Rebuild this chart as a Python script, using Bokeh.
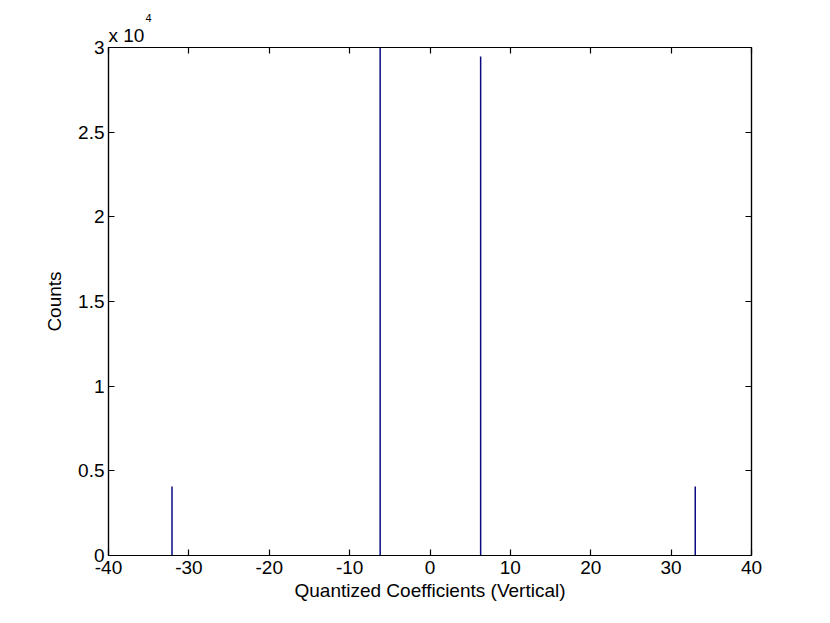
from bokeh.plotting import figure
from bokeh.models import Range1d, LinearAxis, FixedTicker, Title, ColumnDataSource
from bokeh.embed import file_html
from bokeh.resources import INLINE

# data
coefficients = [-32.1, -6.2, 6.3, 33.0]
counts = [4080, 31000, 29470, 4080]
x_ticks = [-40, -30, -20, -10, 0, 10, 20, 30, 40]
x_tick_labels = ["-40", "-30", "-20", "-10", "0", "10", "20", "30", "40"]
y_ticks = [0, 5000, 10000, 15000, 20000, 25000, 30000]
y_tick_labels = ["0", "0.5", "1", "1.5", "2", "2.5", "3"]
exponent_base = "x 10"
exponent_power = "4"

FONT = "Liberation Sans"

src = ColumnDataSource(dict(x=coefficients, y=counts, y0=[0] * len(counts)))

p = figure(width=814, height=615, output_backend="svg", toolbar_location=None,
           x_range=Range1d(-40, 40), y_range=Range1d(0, 30000),
           min_border_left=108, min_border_right=63, min_border_top=47, min_border_bottom=60,
           x_axis_label="Quantized Coefficients (Vertical)", y_axis_label="Counts")
p.background_fill_color = "white"
p.border_fill_color = "white"
p.outline_line_color = "black"
p.outline_line_width = 1.2
p.xgrid.visible = False
p.ygrid.visible = False

p.segment(x0="x", y0="y0", x1="x", y1="y", source=src, line_color="#0A0A80", line_width=1.5)

def style(ax, ticks, show_labels):
    ax.ticker = FixedTicker(ticks=ticks)
    ax.major_tick_in = 6
    ax.major_tick_out = 0
    ax.minor_tick_in = 0
    ax.minor_tick_out = 0
    ax.axis_line_color = "black"
    ax.axis_line_width = 1.2
    ax.major_tick_line_color = "black"
    ax.major_tick_line_width = 1.2
    ax.major_label_text_font = FONT
    ax.major_label_text_color = "black"
    ax.axis_label_text_font = FONT
    ax.axis_label_text_font_style = "normal"
    ax.axis_label_text_font_size = "19px"
    ax.axis_label_text_color = "black"
    if show_labels:
        ax.major_label_text_font_size = "19px"
    else:
        ax.major_label_text_font_size = "0px"
        ax.major_label_text_color = None
        ax.major_label_standoff = 0

xa = p.xaxis[0]
ya = p.yaxis[0]
style(xa, x_ticks, True)
style(ya, y_ticks, True)
xa.major_label_standoff = 5
xa.axis_label_standoff = 3
ya.major_label_standoff = 4
ya.axis_label_standoff = 10
xa.major_label_overrides = {t: l for t, l in zip(x_ticks, x_tick_labels)}
ya.major_label_overrides = {t: l for t, l in zip(y_ticks, y_tick_labels)}

top = LinearAxis()
style(top, x_ticks, False)
p.add_layout(top, "above")
right = LinearAxis()
style(right, y_ticks, False)
p.add_layout(right, "right")

# exponent marker above the frame, as left-aligned titles
p.title.text = exponent_power
p.title.align = "left"
p.title.offset = 37
p.title.standoff = 0
p.title.text_font = FONT
p.title.text_font_size = "11px"
p.title.text_font_style = "normal"
p.title.text_color = "black"
p.add_layout(Title(text=exponent_base, align="left", offset=0, standoff=3,
                   text_font=FONT, text_font_size="19px", text_font_style="normal",
                   text_color="black"), "above")

open("out.html", "w").write(file_html(p, INLINE))
